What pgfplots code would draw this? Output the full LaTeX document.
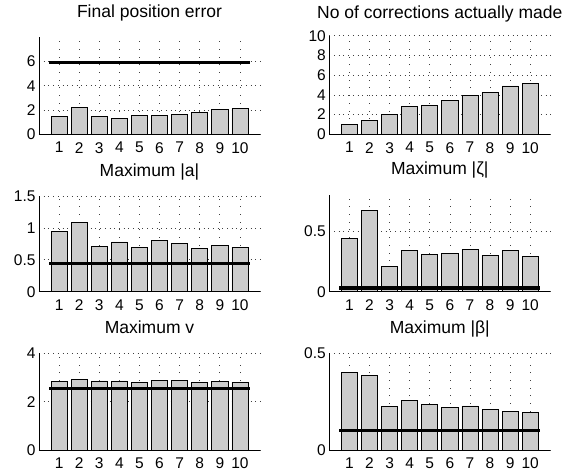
\documentclass[border=0pt]{standalone}
\usepackage{fontspec}
\setmainfont{Liberation Sans}
\usepackage{pgfplots}
\pgfplotsset{compat=1.18}

\pgfplotsset{
  panel/.style={
    scale only axis, width=221pt,
    anchor=south west,
    xmin=0, xmax=11, ymin=0,
    xtick={1,...,10},
    axis x line*=bottom, axis y line*=left,
    axis line style={-, black, line width=0.8pt},
    major tick length=0pt,
    xmajorgrids, ymajorgrids,
    major x grid style={black!75, line width=0.7pt, dash pattern=on 0.7pt off 7pt},
    major y grid style={black!75, line width=0.7pt, dash pattern=on 0.7pt off 4pt},
    /pgf/number format/assume math mode=true,
    tick label style={font=\fontsize{15.5}{17}\selectfont},
    xticklabel style={yshift=-4.5pt},
    title style={font=\fontsize{17.5}{19}\selectfont, at={(0.5,1)}, anchor=base, yshift=14pt},
  },
  bars/.style={ybar, bar width=0.8, fill=black!20, draw=black, line width=0.7pt},
  limit/.style={black, line width=3.2pt, no marks},
}

\begin{document}
\begin{tikzpicture}
\path[use as bounding box] (0,0) rectangle (572pt,-471pt);

% row 1
\begin{axis}[panel, at={(39pt,-134.3pt)}, height=97pt, ymax=8, ytick={0,2,4,6},
  title={Final position error}]
  \addplot[bars] coordinates {(1,1.45) (2,2.19) (3,1.48) (4,1.31) (5,1.53)
    (6,1.59) (7,1.64) (8,1.81) (9,2.05) (10,2.11)};
  \addplot[limit] coordinates {(0.5,5.92) (10.5,5.92)};
\end{axis}

\begin{axis}[panel, at={(329.3pt,-134.3pt)}, height=98.6pt, ymax=10, ytick={0,2,...,10},
  title={No of corrections actually made}, title style={yshift=-2.5pt}]
  \addplot[bars] coordinates {(1,1.0) (2,1.42) (3,2.0) (4,2.8) (5,2.94)
    (6,3.45) (7,3.92) (8,4.22) (9,4.9) (10,5.17)};
\end{axis}

% row 2
\begin{axis}[panel, at={(39pt,-291.7pt)}, height=95.7pt, ymax=1.5, ytick={0,0.5,1,1.5},
  title={Maximum |a|}]
  \addplot[bars] coordinates {(1,0.94) (2,1.08) (3,0.71) (4,0.78) (5,0.69)
    (6,0.80) (7,0.76) (8,0.68) (9,0.73) (10,0.70)};
  \addplot[limit] coordinates {(0.5,0.44) (10.5,0.44)};
\end{axis}

\begin{axis}[panel, at={(329.3pt,-291.7pt)}, height=96.7pt, ymax=0.8, ytick={0,0.5},
  title={Maximum |ζ|}]
  \addplot[bars] coordinates {(1,0.44) (2,0.67) (3,0.21) (4,0.34) (5,0.31)
    (6,0.32) (7,0.35) (8,0.30) (9,0.34) (10,0.29)};
  \addplot[limit] coordinates {(0.5,0.03) (10.5,0.03)};
\end{axis}

% row 3
\begin{axis}[panel, at={(39pt,-450pt)}, height=96.7pt, ymax=4, ytick={0,2,4},
  title={Maximum v}]
  \addplot[bars] coordinates {(1,2.84) (2,2.92) (3,2.86) (4,2.86) (5,2.81)
    (6,2.88) (7,2.88) (8,2.81) (9,2.84) (10,2.81)};
  \addplot[limit] coordinates {(0.5,2.55) (10.5,2.55)};
\end{axis}

\begin{axis}[panel, at={(329.3pt,-450pt)}, height=96.7pt, ymax=0.5, ytick={0,0.5},
  title={Maximum |β|}]
  \addplot[bars] coordinates {(1,0.40) (2,0.385) (3,0.226) (4,0.257) (5,0.236)
    (6,0.221) (7,0.228) (8,0.209) (9,0.2) (10,0.195)};
  \addplot[limit] coordinates {(0.5,0.10) (10.5,0.10)};
\end{axis}
\end{tikzpicture}
\end{document}
